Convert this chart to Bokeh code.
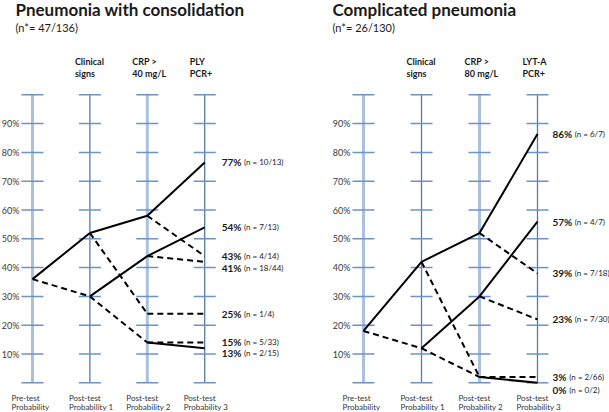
from bokeh.plotting import figure
from bokeh.layouts import row
from bokeh.models import Range1d, ColumnDataSource
from bokeh.core.properties import value
from bokeh.embed import file_html
from bokeh.resources import INLINE

FONT = "Lato"

# ---------------- data ----------------
step_labels_1 = ["Pre-test", "Post-test", "Post-test", "Post-test"]
step_labels_2 = ["Probability", "Probability 1", "Probability 2", "Probability 3"]
pct_ticks = [10, 20, 30, 40, 50, 60, 70, 80, 90]
pct_tick_labels = ["10%", "20%", "30%", "40%", "50%", "60%", "70%", "80%", "90%"]

# Left panel: Pneumonia with consolidation
left_title = "Pneumonia with consolidation"
left_sub = "(n*= 47/136)"
left_head_1 = ["Clinical", "CRP >", "PLY"]
left_head_2 = ["signs", "40 mg/L", "PCR+"]
left_from_step = [0, 0, 1, 1, 1, 1, 2, 2, 2, 2, 2, 2, 2]
left_from_val = [36, 36, 52, 52, 30, 30, 58, 58, 44, 44, 24, 14, 14]
left_to_val = [52, 30, 58, 24, 44, 14, 76.5, 44, 54, 42, 24, 12, 14]
left_solid = [1, 0, 1, 0, 1, 0, 1, 0, 1, 0, 0, 1, 0]
left_end_val = [76.5, 54, 44, 42, 24, 14, 12]
left_end_pct = ["77%", "54%", "43%", "41%", "25%", "15%", "13%"]
left_end_n = ["(n = 10/13)", "(n = 7/13)", "(n = 4/14)", "(n = 18/44)",
              "(n = 1/4)", "(n = 5/33)", "(n = 2/15)"]

# Right panel: Complicated pneumonia
right_title = "Complicated pneumonia"
right_sub = "(n*= 26/130)"
right_head_1 = ["Clinical", "CRP >", "LYT-A"]
right_head_2 = ["signs", "80 mg/L", "PCR+"]
right_from_step = [0, 0, 1, 1, 1, 1, 2, 2, 2, 2, 2, 2]
right_from_val = [18, 18, 42, 42, 12, 12, 52, 52, 30, 30, 2, 2]
right_to_val = [42, 12, 52, 2, 30, 2, 86.4, 38, 56, 22, 0, 2]
right_solid = [1, 0, 1, 0, 1, 0, 1, 0, 1, 0, 1, 0]
right_end_val = [86.4, 56, 38, 22, 2, 0]
right_end_pct = ["86%", "57%", "39%", "23%", "3%", "0%"]
right_end_n = ["(n = 6/7)", "(n = 4/7)", "(n = 7/18)", "(n = 7/30)",
               "(n = 2/66)", "(n = 0/2)"]

# ---------------- layout constants ----------------
H = 412
PX = 2.88           # pixels per percentage point
ZERO_FIG_Y = 382.3  # figure pixel row of 0 %
Y0 = -(H - ZERO_FIG_Y) / PX
Y1 = ZERO_FIG_Y / PX

PALE = "#a9c1df"
DARK = "#5679ad"
TICK = "#6f92c4"
INK = "#1a1a1a"


def pct_w(s):
    w = 0
    for ch in s:
        w += 8.4 if ch == "%" else 5.4
    return w


def panel(width, first_axis_px, step_px, title, sub, title_dx, head1, head2,
          fs, fv, tv, solid, end_val, end_pct, end_n, label_dx, nudges):
    x0 = -first_axis_px / step_px
    x1 = x0 + width / step_px
    p = figure(width=width, height=H, output_backend="svg", toolbar_location=None,
               x_range=Range1d(x0, x1), y_range=Range1d(Y0, Y1),
               x_axis_type=None, y_axis_type=None, min_border=0)
    p.outline_line_color = None
    p.grid.visible = False
    p.background_fill_color = "white"
    p.border_fill_color = "white"

    def dx(px):
        return px / step_px

    def dy(px):
        return px / PX

    # vertical axes
    for i in range(4):
        thick = i % 2 == 0
        p.segment(x0=[i], y0=[0], x1=[i], y1=[100],
                  line_color=PALE if thick else DARK,
                  line_width=3 if thick else 1.3)
    # tick marks
    tx0, tx1, ty = [], [], []
    for i in range(4):
        for t in [0] + pct_ticks + [100]:
            tx0.append(i - dx(11))
            tx1.append(i + dx(11))
            ty.append(t)
    p.segment(x0=tx0, y0=ty, x1=tx1, y1=ty, line_color=TICK, line_width=1.5)

    # percentage labels
    p.text(x=[-dx(13)] * len(pct_ticks), y=pct_ticks, text=pct_tick_labels,
           text_align="right", text_baseline="middle",
           text_font=value(FONT), text_font_size="9px", text_color="#3a3a3a")

    # tree edges
    for is_solid in (1, 0):
        idx = [k for k in range(len(fs)) if solid[k] == is_solid]
        src = ColumnDataSource(dict(
            x0=[fs[k] for k in idx], y0=[fv[k] for k in idx],
            x1=[fs[k] + 1 for k in idx], y1=[tv[k] for k in idx]))
        p.segment(x0="x0", y0="y0", x1="x1", y1="y1", source=src,
                  line_color="black", line_width=2,
                  line_dash="solid" if is_solid else "6 4")

    # end labels (nudges in pixels, positive = down)
    for k in range(len(end_val)):
        y = end_val[k] - dy(nudges[k])
        p.text(x=[3 + dx(label_dx)], y=[y], text=[end_pct[k]],
               text_align="left", text_baseline="middle",
               text_font=value(FONT), text_font_style="bold",
               text_font_size="10px", text_color=INK)
        p.text(x=[3 + dx(label_dx + pct_w(end_pct[k]) + 3)], y=[y], text=[end_n[k]],
               text_align="left", text_baseline="middle",
               text_font=value(FONT), text_font_size="8px", text_color=INK)

    # headers above axes
    hx = [i - dx(15) for i in (1, 2, 3)]
    p.text(x=hx, y=[100 + dy(33)] * 3, text=head1, text_align="left",
           text_baseline="middle", text_font=value(FONT), text_font_style="bold",
           text_font_size="9px", text_color=INK)
    p.text(x=hx, y=[100 + dy(21)] * 3, text=head2, text_align="left",
           text_baseline="middle", text_font=value(FONT), text_font_style="bold",
           text_font_size="9px", text_color=INK)

    # bottom labels
    bx = [i - dx(21) for i in range(4)]
    p.text(x=bx, y=[-dy(15)] * 4, text=step_labels_1, text_align="left",
           text_baseline="middle", text_font=value(FONT),
           text_font_size="8px", text_color="#333333")
    p.text(x=bx, y=[-dy(24)] * 4, text=step_labels_2, text_align="left",
           text_baseline="middle", text_font=value(FONT),
           text_font_size="8px", text_color="#333333")

    # title & subtitle
    p.text(x=[-dx(title_dx)], y=[100 + dy(85)], text=[title], text_align="left",
           text_baseline="middle", text_font=value(FONT), text_font_style="bold",
           text_font_size="17px", text_color=INK)
    p.text(x=[-dx(title_dx)], y=[100 + dy(67)], text=[sub], text_align="left",
           text_baseline="middle", text_font=value(FONT),
           text_font_size="11px", text_color=INK)
    return p


left = panel(300, 32, 57.4, left_title, left_sub, 17, left_head_1, left_head_2,
             left_from_step, left_from_val, left_to_val, left_solid,
             left_end_val, left_end_pct, left_end_n, 17,
             [0, 0, 0, 6, 0, 0, 5])

right = panel(309, 63, 58.0, right_title, right_sub, 31, right_head_1, right_head_2,
              right_from_step, right_from_val, right_to_val, right_solid,
              right_end_val, right_end_pct, right_end_n, 15,
              [0, 0, 0, 0, 0, 7])

layout = row(left, right, spacing=0)
open("out.html", "w").write(file_html(layout, INLINE))
